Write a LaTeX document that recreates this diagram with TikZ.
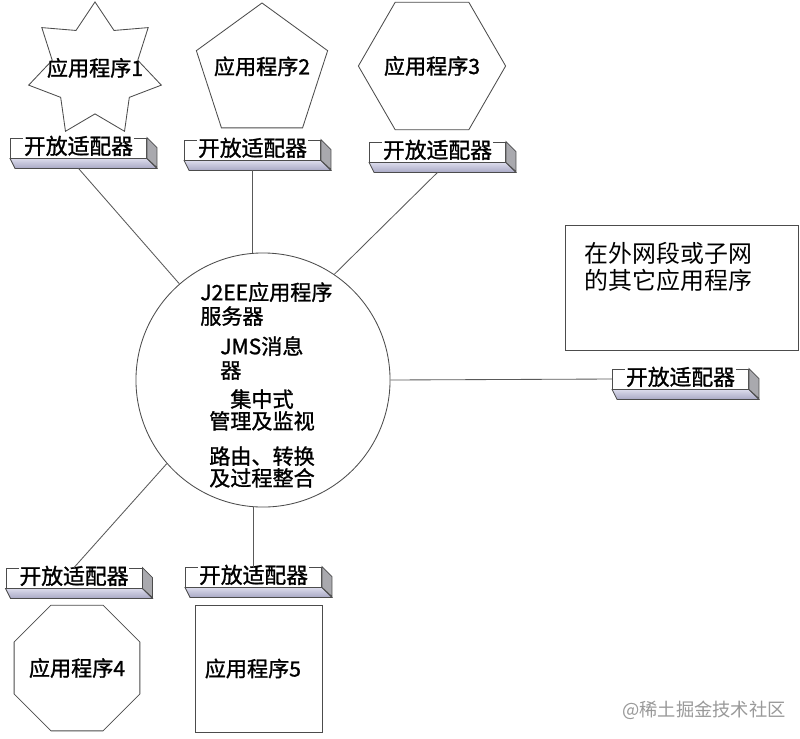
\documentclass[tikz,border=0pt]{standalone}
\usepackage{fontspec}
\newfontfamily\cjk{Noto Sans CJK SC}[FakeBold=1.2]
\newfontfamily\cjkplain{Noto Sans CJK SC}
\usetikzlibrary{
  shapes.geometric,
  calc
}

\definecolor{lavtop}{HTML}{DCDCEC}
\definecolor{lavbot}{HTML}{A8A8C4}
\definecolor{sidegray}{HTML}{A9A9AE}

\tikzset{
  outline/.style={draw=black!70,line width=0.6pt},
  app/.style={outline,fill=white,inner sep=0pt},
  applabel/.style={font=\cjk\fontsize{15}{17}\selectfont,inner sep=0pt},
  adapter/.style={outline,fill=white,minimum width=3.4cm,minimum height=0.5cm,inner sep=0pt},
  adtext/.style={fill=white,inner sep=0.6pt,font=\cjk\fontsize{15.5}{17}\selectfont},
  adbottom/.style={outline,top color=lavtop,bottom color=lavbot},
  adside/.style={outline,fill=sidegray},
  link/.style={draw=black!65,line width=0.6pt},
  hubtext/.style={inner sep=0pt,font=\cjk\fontsize{15}{17}\selectfont},
}

\newcommand{\adapter}[2]{%
  \node[adapter] (#1) at (#2) {};
  \filldraw[adbottom] (#1.south west) -- (#1.south east) -- ++(10,10)
    -- ($(#1.south west)+(5,10)$) -- cycle;
  \filldraw[adside] (#1.north east) -- ++(10,10) -- ++(0,20) -- (#1.south east) -- cycle;
  \node[adtext] (#1-t) at ([yshift=1.5pt]#1) {开放适配器};
  \coordinate (#1-b) at ($(#1.south)+(0,10)$);
}

\begin{document}
\begin{tikzpicture}[x=0.025cm,y=-0.025cm]
\fill[white] (0,0) rectangle (800,738);
\useasboundingbox (0,0) rectangle (800,738);

\node[app,star,star points=7,star point ratio=1.55,minimum size=3.4cm,
  label={[applabel,yshift=1.5pt]center:应用程序1}] (app1) at (95,70) {};
\node[app,regular polygon,regular polygon sides=5,minimum size=3.45cm,
  label={[applabel,yshift=4pt]center:应用程序2}] (app2) at (262,72) {};
\node[app,regular polygon,regular polygon sides=6,minimum size=3.68cm,
  label={[applabel]center:应用程序3}] (app3) at (432,66) {};
\node[app,regular polygon,regular polygon sides=8,minimum size=3.4cm,
  label={[applabel]center:应用程序4}] (app4) at (77,668) {};
\node[app,rectangle,minimum size=3.175cm,
  label={[applabel,xshift=-4pt]center:应用程序5}] (app5) at (258.5,668.5) {};

\node[outline,fill=white,minimum width=5.825cm,minimum height=3.125cm] (other) at (681.5,287.5) {};
\node[anchor=north west,inner sep=0pt,align=left,font=\cjkplain\fontsize{17}{19.5}\selectfont]
  (othertxt) at ([shift={(20,17)}]other.north west) {在外网段或子网\\的其它应用程序};

\adapter{ad1}{78.5,148}
\adapter{ad2}{252.5,150}
\adapter{ad3}{437.5,152}
\adapter{ad4}{74,578}
\adapter{ad5}{253.5,577}
\adapter{ad6}{680.5,379}

\node[circle,outline,fill=white,minimum size=6.35cm,inner sep=0pt] (hub) at (263,380) {};
\node[hubtext,anchor=north west,align=left] (hub-a) at (200,282) {J2EE应用程序\\服务器};
\node[hubtext,anchor=north west,align=left] (hub-b) at (220,336) {JMS消息\\器};
\node[hubtext,align=center,font=\cjk\fontsize{15}{15.5}\selectfont] (hub-c) at (262,410) {集中式\\管理及监视};
\node[hubtext,align=center,font=\cjk\fontsize{15}{15.5}\selectfont] (hub-d) at (262,467) {路由、转换\\及过程整合};

\draw[link] (ad1-b) -- (hub.131);
\draw[link] (ad2-b) -- (ad2-b |- hub.north);
\draw[link] (ad3-b) -- (hub.56);
\draw[link] (hub.east) -- (ad6.west);
\draw[link] (hub.221) -- (ad4.north);
\draw[link] (ad5 |- hub.south) -- (ad5.north);

\node[text=black!40,font=\cjkplain\fontsize{13}{15}\selectfont,inner sep=0pt] (mark) at (704,710) {@稀土掘金技术社区};
\end{tikzpicture}
\end{document}
